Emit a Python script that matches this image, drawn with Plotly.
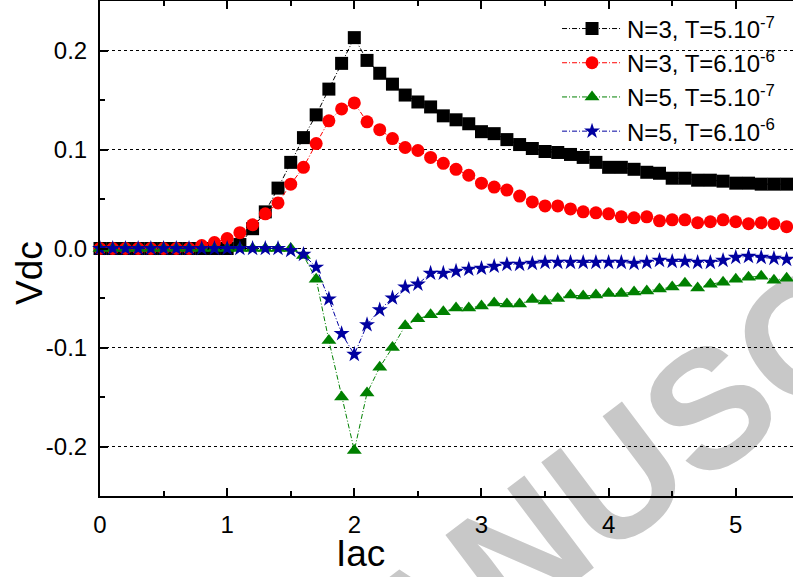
import plotly.graph_objects as go

# ---------------- data ----------------
iac = [0.0, 0.1, 0.2, 0.3, 0.4, 0.5, 0.6, 0.7, 0.8, 0.9,
       1.0, 1.1, 1.2, 1.3, 1.4, 1.5, 1.6, 1.7, 1.8, 1.9,
       2.0, 2.1, 2.2, 2.3, 2.4, 2.5, 2.6, 2.7, 2.8, 2.9,
       3.0, 3.1, 3.2, 3.3, 3.4, 3.5, 3.6, 3.7, 3.8, 3.9,
       4.0, 4.1, 4.2, 4.3, 4.4, 4.5, 4.6, 4.7, 4.8, 4.9,
       5.0, 5.1, 5.2, 5.3, 5.4]

n3_t5e7 = [0, 0, 0, 0, 0, 0, 0, 0, 0, 0,
           0.000, 0.004, 0.020, 0.037, 0.061, 0.087, 0.112, 0.135, 0.161, 0.187,
           0.213, 0.190, 0.177, 0.166, 0.155, 0.148, 0.143, 0.134, 0.130, 0.126,
           0.118, 0.116, 0.110, 0.105, 0.101, 0.098, 0.097, 0.095, 0.092, 0.087,
           0.082, 0.082, 0.080, 0.077, 0.076, 0.071, 0.071, 0.069, 0.069, 0.068,
           0.066, 0.066, 0.065, 0.065, 0.065]

n3_t6e6 = [0, 0, 0, 0, 0, 0, 0, 0, 0.003, 0.006,
           0.010, 0.016, 0.024, 0.035, 0.046, 0.065, 0.082, 0.106, 0.129, 0.141,
           0.147, 0.128, 0.120, 0.111, 0.102, 0.099, 0.092, 0.086, 0.080, 0.074,
           0.066, 0.062, 0.059, 0.053, 0.047, 0.043, 0.043, 0.040, 0.037, 0.036,
           0.035, 0.032, 0.031, 0.032, 0.028, 0.029, 0.029, 0.026, 0.027, 0.029,
           0.027, 0.025, 0.026, 0.025, 0.022]

n5_t5e7 = [0, 0, 0, 0, 0, 0, 0, 0, 0, 0,
           0, 0, 0, 0, 0, 0, -0.007, -0.031, -0.093, -0.150,
           -0.204, -0.146, -0.120, -0.100, -0.078, -0.071, -0.067, -0.064, -0.060, -0.060,
           -0.058, -0.055, -0.056, -0.056, -0.0515, -0.053, -0.0505, -0.047, -0.048, -0.047,
           -0.0455, -0.0455, -0.044, -0.043, -0.041, -0.039, -0.035, -0.040, -0.036, -0.034,
           -0.031, -0.029, -0.028, -0.032, -0.030]

n5_t6e6 = [0, 0, 0, 0, 0, 0, 0, 0, 0, 0,
           0, 0, 0, 0, 0, -0.002, -0.006, -0.019, -0.051, -0.086,
           -0.107, -0.077, -0.062, -0.050, -0.039, -0.036, -0.025, -0.025, -0.023, -0.021,
           -0.020, -0.018, -0.016, -0.016, -0.015, -0.014, -0.014, -0.014, -0.014, -0.014,
           -0.014, -0.014, -0.015, -0.014, -0.012, -0.013, -0.013, -0.014, -0.014, -0.012,
           -0.009, -0.008, -0.009, -0.010, -0.011]

series_names = ["N=3, T=5.10<sup>-7</sup>", "N=3, T=6.10<sup>-6</sup>",
                "N=5, T=5.10<sup>-7</sup>", "N=5, T=6.10<sup>-6</sup>"]

x_tickvals = [0, 1, 2, 3, 4, 5]
x_ticktext = ["0", "1", "2", "3", "4", "5"]
y_tickvals = [-0.2, -0.1, 0.0, 0.1, 0.2]
y_ticktext = ["-0.2", "-0.1", "0.0", "0.1", "0.2"]

watermark_text = "MANUSCRIPT"

# ---------------- styling ----------------
FONT = "Liberation Sans, Arial, sans-serif"
DASH = "5px,2px,1px,2px"

styles = [
    dict(color="#000000", symbol="square", size=13),
    dict(color="#FF0000", symbol="circle", size=13),
    dict(color="#008000", symbol="triangle-up", size=13),
    dict(color="#0000A0", symbol="star", size=12),
]
values = [n3_t5e7, n3_t6e6, n5_t5e7, n5_t6e6]

fig = go.Figure()
for name, ys, st in zip(series_names, values, styles):
    fig.add_trace(go.Scatter(
        x=iac, y=ys, name=name, mode="lines+markers",
        line=dict(color=st["color"], width=1, dash=DASH),
        marker=dict(color=st["color"], symbol=st["symbol"], size=st["size"],
                    line=dict(width=0)),
        cliponaxis=False,
    ))

axis_common = dict(
    showline=True, linecolor="black", linewidth=2,
    ticks="inside", ticklen=8, tickwidth=2, tickcolor="black",
    tickfont=dict(family=FONT, size=24, color="black"),
    zeroline=False,
)

fig.update_xaxes(
    range=[0, 5.45], tickvals=x_tickvals, ticktext=x_ticktext,
    mirror="ticks", showgrid=False,
    minor=dict(dtick=0.5, ticks="inside", ticklen=5, tickwidth=2, tickcolor="black", showgrid=False),
    ticklabelstandoff=6,
    **axis_common,
)
fig.update_yaxes(
    range=[-0.25, 0.25], tickvals=y_tickvals, ticktext=y_ticktext,
    mirror=False, showgrid=True, gridcolor="black", gridwidth=1, griddash="dot",
    minor=dict(dtick=0.05, tick0=0, ticks="inside", ticklen=5, tickwidth=2, tickcolor="black", showgrid=False),
    ticklabelstandoff=6,
    **axis_common,
)

# watermark (drawn below the data)
wm_cx, wm_cy = 700, 395
fig.add_shape(
    type="rect", xref="paper", yref="paper",
    x0=(wm_cx - 100 - 100) / 693, x1=(wm_cx - 100 + 100) / 693,
    y0=(496 - wm_cy - 100) / 495, y1=(496 - wm_cy + 100) / 495,
    line=dict(width=0), fillcolor="rgba(0,0,0,0)", layer="below",
    label=dict(text=watermark_text, textangle=-37, textposition="middle center",
               font=dict(family=FONT, size=168, color="#C8C8C8", weight="bold")),
)

fig.update_layout(
    width=793, height=577,
    margin=dict(l=100, r=0, t=1, b=81, autoexpand=False),
    plot_bgcolor="rgba(0,0,0,0)", paper_bgcolor="white",
    font=dict(family=FONT, color="black"),
    showlegend=True,
    legend=dict(
        x=0.6595, xanchor="left", y=0.989, yanchor="top",
        bgcolor="rgba(0,0,0,0)", borderwidth=0,
        font=dict(family=FONT, size=24, color="black"),
        itemwidth=60, tracegroupgap=0,
    ),
    annotations=[
        dict(text="Vdc", xref="paper", yref="paper",
             x=(29 - 100) / 693, y=(496 - 273) / 495, xanchor="center", yanchor="middle",
             textangle=-90, showarrow=False,
             font=dict(family=FONT, size=37, color="black")),
        dict(text="Iac", xref="paper", yref="paper",
             x=(360 - 100) / 693, y=(496 - 553) / 495, xanchor="center", yanchor="middle",
             showarrow=False,
             font=dict(family=FONT, size=37, color="black")),
    ],
)

fig.write_html("out.html", config={"displayModeBar": False},
               post_script="document.body.style.margin='0';")
